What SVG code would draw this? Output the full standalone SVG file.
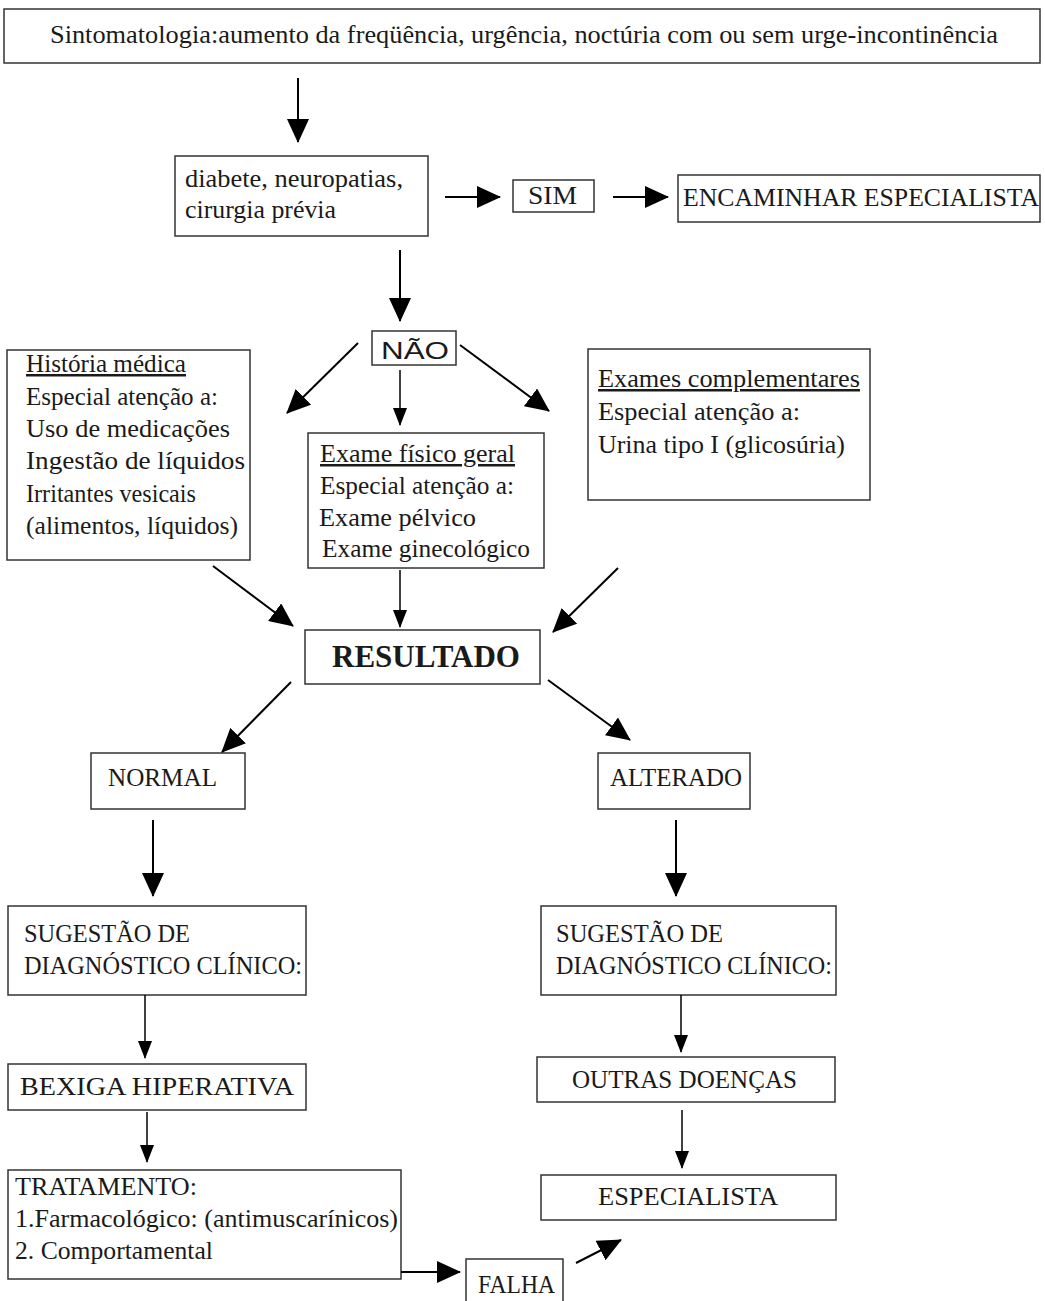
<svg xmlns="http://www.w3.org/2000/svg" width="1045" height="1301" viewBox="0 0 1045 1301">
<style>
.box{fill:#fff;stroke:#333;stroke-width:1.5}
text{font-family:'Liberation Serif',serif;font-size:25px;fill:#1a1a1a}
text.s{font-family:'Liberation Sans',sans-serif;font-size:24px}
.b{font-weight:bold;font-size:31px}
.u{text-decoration:underline}
.c line{stroke:#000;stroke-width:2}
.c line.th{stroke-width:1.5}
</style>
<defs>
<marker id="big" viewBox="0 0 24 22" refX="23" refY="11" markerWidth="24" markerHeight="22" markerUnits="userSpaceOnUse" orient="auto"><path d="M0,0 L24,11 L0,22 z" fill="#000"/></marker>
<marker id="small" viewBox="0 0 18 14" refX="17" refY="7" markerWidth="18" markerHeight="14" markerUnits="userSpaceOnUse" orient="auto"><path d="M0,0 L18,7 L0,14 z" fill="#000"/></marker>
</defs>
<rect width="1045" height="1301" fill="#fff"/>
<g id="n1"><rect class="box" x="4" y="9" width="1036" height="54"/><text x="50" y="43" font-size="27" textLength="948" lengthAdjust="spacingAndGlyphs">Sintomatologia:aumento da freqüência, urgência, noctúria com ou sem urge-incontinência</text></g>
<g id="n2"><rect class="box" x="175" y="156" width="253" height="80"/><text x="185" y="187" textLength="218" lengthAdjust="spacingAndGlyphs">diabete, neuropatias,</text><text x="185" y="218" textLength="151" lengthAdjust="spacingAndGlyphs">cirurgia prévia</text></g>
<g id="n3"><rect class="box" x="513" y="180" width="81" height="32"/><text x="528" y="204" textLength="49" lengthAdjust="spacingAndGlyphs">SIM</text></g>
<g id="n4"><rect class="box" x="678" y="175" width="362" height="47"/><text x="683" y="206" textLength="356" lengthAdjust="spacingAndGlyphs">ENCAMINHAR ESPECIALISTA</text></g>
<g id="n5"><rect class="box" x="372" y="331" width="84" height="34"/><text class="s" x="381" y="359" textLength="68" lengthAdjust="spacingAndGlyphs">NÃO</text></g>
<g id="n6"><rect class="box" x="7" y="350" width="243" height="210"/>
<text class="u" x="26" y="372" textLength="160" lengthAdjust="spacingAndGlyphs">História médica</text>
<text x="26" y="405" textLength="192" lengthAdjust="spacingAndGlyphs">Especial atenção a:</text>
<text x="26" y="437" textLength="204" lengthAdjust="spacingAndGlyphs">Uso de medicações</text>
<text x="26" y="469" textLength="219" lengthAdjust="spacingAndGlyphs">Ingestão de líquidos</text>
<text x="26" y="502" textLength="170" lengthAdjust="spacingAndGlyphs">Irritantes vesicais</text>
<text x="26" y="534" textLength="212" lengthAdjust="spacingAndGlyphs">(alimentos, líquidos)</text></g>
<g id="n7"><rect class="box" x="308" y="433" width="236" height="135"/>
<text class="u" x="320" y="462" textLength="195" lengthAdjust="spacingAndGlyphs">Exame  físico geral</text>
<text x="320" y="494" textLength="194" lengthAdjust="spacingAndGlyphs">Especial atenção a:</text>
<text x="319" y="526" textLength="157" lengthAdjust="spacingAndGlyphs">Exame pélvico</text>
<text x="322" y="557" textLength="208" lengthAdjust="spacingAndGlyphs">Exame ginecológico</text></g>
<g id="n8"><rect class="box" x="588" y="349" width="282" height="151"/>
<text class="u" x="598" y="387" textLength="262" lengthAdjust="spacingAndGlyphs">Exames  complementares</text>
<text x="598" y="420" textLength="202" lengthAdjust="spacingAndGlyphs">Especial atenção a:</text>
<text x="598" y="453" textLength="247" lengthAdjust="spacingAndGlyphs">Urina tipo I (glicosúria)</text></g>
<g id="n9"><rect class="box" x="305" y="630" width="235" height="54"/><text class="b" x="332" y="667" textLength="188" lengthAdjust="spacingAndGlyphs">RESULTADO</text></g>
<g id="n10"><rect class="box" x="91" y="753" width="154" height="56"/><text x="108" y="786" textLength="109" lengthAdjust="spacingAndGlyphs">NORMAL</text></g>
<g id="n11"><rect class="box" x="598" y="753" width="152" height="56"/><text x="610" y="786" textLength="132" lengthAdjust="spacingAndGlyphs">ALTERADO</text></g>
<g id="n12"><rect class="box" x="8" y="906" width="298" height="89"/><text x="24" y="942" textLength="166" lengthAdjust="spacingAndGlyphs">SUGESTÃO DE</text><text x="24" y="974" textLength="278" lengthAdjust="spacingAndGlyphs">DIAGNÓSTICO CLÍNICO:</text></g>
<g id="n13"><rect class="box" x="541" y="906" width="295" height="89"/><text x="556" y="942" textLength="167" lengthAdjust="spacingAndGlyphs">SUGESTÃO DE</text><text x="556" y="974" textLength="276" lengthAdjust="spacingAndGlyphs">DIAGNÓSTICO CLÍNICO:</text></g>
<g id="n14"><rect class="box" x="8" y="1064" width="298" height="46"/><text x="20" y="1095" textLength="274" lengthAdjust="spacingAndGlyphs">BEXIGA HIPERATIVA</text></g>
<g id="n15"><rect class="box" x="537" y="1057" width="298" height="45"/><text x="572" y="1088" textLength="225" lengthAdjust="spacingAndGlyphs">OUTRAS DOENÇAS</text></g>
<g id="n16"><rect class="box" x="8" y="1170" width="393" height="109"/>
<text x="15" y="1195" textLength="182" lengthAdjust="spacingAndGlyphs">TRATAMENTO:</text>
<text x="15" y="1227" textLength="383" lengthAdjust="spacingAndGlyphs">1.Farmacológico: (antimuscarínicos)</text>
<text x="15" y="1259" textLength="198" lengthAdjust="spacingAndGlyphs">2. Comportamental</text></g>
<g id="n17"><rect class="box" x="541" y="1175" width="295" height="45"/><text x="598" y="1205" textLength="180" lengthAdjust="spacingAndGlyphs">ESPECIALISTA</text></g>
<g id="n18"><rect class="box" x="466" y="1259" width="97" height="50"/><text x="478" y="1293" textLength="77" lengthAdjust="spacingAndGlyphs">FALHA</text></g>
<g id="connectors" class="c">
<line x1="298" y1="78" x2="298" y2="142" marker-end="url(#big)"/>
<line x1="445" y1="197" x2="500" y2="197" marker-end="url(#big)"/>
<line x1="613" y1="197" x2="668" y2="197" marker-end="url(#big)"/>
<line x1="400" y1="250" x2="400" y2="321" marker-end="url(#big)"/>
<line x1="358" y1="343" x2="287" y2="413" marker-end="url(#big)"/>
<line class="th" x1="400" y1="370" x2="400" y2="425" marker-end="url(#small)"/>
<line x1="460" y1="345" x2="549" y2="411" marker-end="url(#big)"/>
<line x1="213" y1="566" x2="293" y2="626" marker-end="url(#big)"/>
<line class="th" x1="400" y1="570" x2="400" y2="627" marker-end="url(#small)"/>
<line x1="618" y1="568" x2="553" y2="632" marker-end="url(#big)"/>
<line x1="291" y1="682" x2="222" y2="752" marker-end="url(#big)"/>
<line x1="548" y1="680" x2="630" y2="740" marker-end="url(#big)"/>
<line x1="153" y1="820" x2="153" y2="896" marker-end="url(#big)"/>
<line x1="676" y1="820" x2="676" y2="896" marker-end="url(#big)"/>
<line class="th" x1="145" y1="995" x2="145" y2="1058" marker-end="url(#small)"/>
<line class="th" x1="681" y1="995" x2="681" y2="1052" marker-end="url(#small)"/>
<line class="th" x1="147" y1="1112" x2="147" y2="1162" marker-end="url(#small)"/>
<line class="th" x1="682" y1="1110" x2="682" y2="1168" marker-end="url(#small)"/>
<line x1="401" y1="1272" x2="460" y2="1272" marker-end="url(#big)"/>
<line x1="576" y1="1263" x2="621" y2="1240" marker-end="url(#big)"/>
</g>
</svg>
